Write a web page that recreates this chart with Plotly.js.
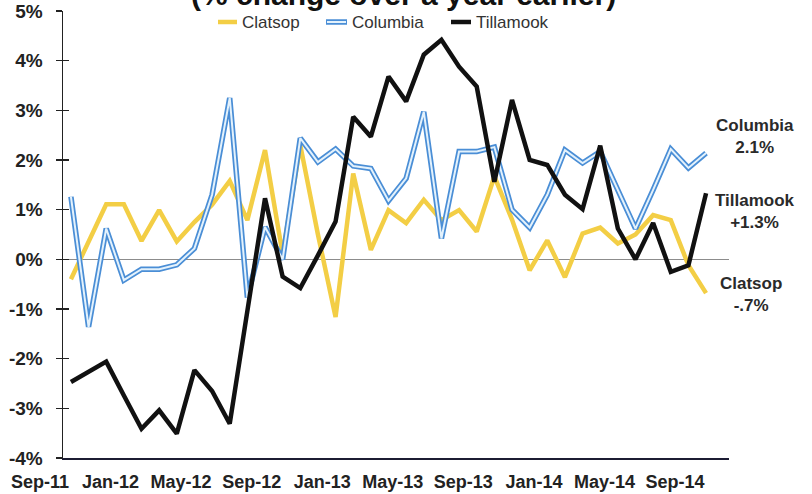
<!DOCTYPE html>
<html>
<head>
<meta charset="utf-8">
<script src="https://cdn.plot.ly/plotly-3.0.1.min.js"></script>
<style>html,body{margin:0;padding:0;background:#fff;}#chart{width:812px;height:494px;}</style>
</head>
<body>
<div id="chart"></div>
<script>
// ---- data ----
const months = ['Sep-11','Oct-11','Nov-11','Dec-11','Jan-12','Feb-12','Mar-12','Apr-12','May-12','Jun-12','Jul-12','Aug-12',
  'Sep-12','Oct-12','Nov-12','Dec-12','Jan-13','Feb-13','Mar-13','Apr-13','May-13','Jun-13','Jul-13','Aug-13',
  'Sep-13','Oct-13','Nov-13','Dec-13','Jan-14','Feb-14','Mar-14','Apr-14','May-14','Jun-14','Jul-14','Aug-14','Sep-14'];
const xTickLabels = ['Sep-11','Jan-12','May-12','Sep-12','Jan-13','May-13','Sep-13','Jan-14','May-14','Sep-14'];
const yTickValues = [-4,-3,-2,-1,0,1,2,3,4,5];
const yTickLabels = ['-4%','-3%','-2%','-1%','0%','1%','2%','3%','4%','5%'];
const clatsop = [-0.40,0.35,1.11,1.11,0.37,0.99,0.36,0.75,1.10,1.58,0.79,2.20,0.10,2.30,0.50,-1.16,1.73,0.19,0.99,0.73,1.20,0.79,0.99,0.56,1.67,0.80,-0.22,0.38,-0.36,0.52,0.64,0.32,0.50,0.89,0.79,-0.12,-0.68];
const columbia = [1.26,-1.36,0.62,-0.42,-0.20,-0.20,-0.11,0.22,1.30,3.25,-0.77,0.65,0.00,2.44,1.96,2.22,1.88,1.83,1.18,1.63,2.97,0.42,2.17,2.17,2.26,1.00,0.64,1.30,2.20,1.94,2.17,1.40,0.62,1.40,2.22,1.84,2.14];
const tillamook = [-2.47,-2.27,-2.06,-2.74,-3.41,-3.04,-3.51,-2.23,-2.65,-3.31,-1.05,1.23,-0.35,-0.58,0.08,0.76,2.87,2.47,3.68,3.18,4.12,4.42,3.88,3.48,1.56,3.21,2.00,1.90,1.30,1.01,2.29,0.62,0.00,0.73,-0.25,-0.12,1.33];
const seriesNames = ['Clatsop','Columbia','Tillamook'];
const endLabels = ['Columbia<br>2.1%','Tillamook<br>+1.3%','Clatsop<br>-.7%'];
const titleText = '(% change over a year earlier)';

// ---- geometry helpers ----
const W = 812, H = 494, M = {l:63, r:83, t:11, b:36};
const pw = W - M.l - M.r, ph = H - M.t - M.b;
const px = p => (p - M.l) / pw;
const py = p => (H - M.b - p) / ph;

const FONT = 'Liberation Sans, Arial, sans-serif';
const cYellow = '#F3CE45', cBlue = '#4A8ED6', cBlueIn = '#E4F2FC', cBlack = '#111111';

const traces = [
  {x: months, y: clatsop, type:'scatter', mode:'lines', name: seriesNames[0],
   line:{color:cYellow, width:4.5}, showlegend:false, hoverinfo:'skip'},
  {x: months, y: columbia, type:'scatter', mode:'lines', name: seriesNames[1],
   line:{color:cBlue, width:5.5}, showlegend:false, hoverinfo:'skip'},
  {x: months, y: columbia, type:'scatter', mode:'lines', name: seriesNames[1]+' inner',
   line:{color:cBlueIn, width:2}, showlegend:false, hoverinfo:'skip'},
  {x: months, y: tillamook, type:'scatter', mode:'lines', name: seriesNames[2],
   line:{color:cBlack, width:4.5}, showlegend:false, hoverinfo:'skip'},
  {x: [], y: [], yaxis:'y2', type:'scatter', mode:'lines', showlegend:false, hoverinfo:'skip'}
];

// custom legend
const legItems = [
  {name: seriesNames[0], x0:218, x1:237, tx:240, color:cYellow},
  {name: seriesNames[1], x0:326, x1:347, tx:350, color:cBlue, inner:cBlueIn},
  {name: seriesNames[2], x0:451, x1:471, tx:474, color:cBlack}
];
const legY = 22;
const shapes = [];
const annotations = [];
legItems.forEach(it => {
  shapes.push({type:'line', xref:'paper', yref:'paper', x0:px(it.x0), x1:px(it.x1), y0:py(legY), y1:py(legY),
    line:{color:it.color, width: it.inner ? 5.5 : 4.5}});
  if (it.inner) shapes.push({type:'line', xref:'paper', yref:'paper', x0:px(it.x0+1), x1:px(it.x1-1), y0:py(legY), y1:py(legY),
    line:{color:it.inner, width:2}});
  annotations.push({xref:'paper', yref:'paper', x:px(it.tx), y:py(legY), xanchor:'left', yanchor:'middle',
    text: it.name, showarrow:false, font:{family:FONT, size:17, color:'#333'}});
});

// title (cut off at top of picture)
annotations.push({xref:'paper', yref:'paper', x:px(404), y:py(-6), xanchor:'center', yanchor:'middle',
  text: titleText, showarrow:false, font:{family:FONT, size:30, color:'#111', weight:'bold'}});

// end labels
const endPos = [[755,136.5],[755,211.5],[751,294]];
endLabels.forEach((t,i) => {
  annotations.push({xref:'paper', yref:'paper', x:px(endPos[i][0]), y:py(endPos[i][1]), xanchor:'center', yanchor:'middle',
    text:t, showarrow:false, align:'center', font:{family:FONT, size:17, color:'#2a2a2a', weight:'bold'}});
});

const layout = {
  width: W, height: H,
  margin: M,
  paper_bgcolor:'#ffffff', plot_bgcolor:'#ffffff',
  showlegend:false,
  xaxis: {type:'category', range:[-0.45, 37.3], tickmode:'array', tickvals:xTickLabels, ticktext:xTickLabels,
    ticks:'', showline:true, linecolor:'#1c1c33', linewidth:2, showgrid:false, zeroline:false,
    tickfont:{family:FONT, size:18, color:'#222', weight:'bold'}, ticklabelshift:-31, ticklabelstandoff:6},
  yaxis: {range:[-4,5], tickmode:'array', tickvals:yTickValues, ticktext:yTickLabels,
    ticks:'outside', ticklen:6, tickcolor:'#222', tickwidth:1.5, showline:true, linecolor:'#222', linewidth:1.5,
    showgrid:false, zeroline:true, zerolinecolor:'#8c8c8c', zerolinewidth:1.2,
    tickfont:{family:FONT, size:19, color:'#222', weight:'bold'}, ticklabelstandoff:9},
  yaxis2: {overlaying:'y', side:'left', range:[-4,5], tickmode:'array', tickvals:yTickValues,
    ticks:'inside', ticklen:6, tickcolor:'#222', tickwidth:1.5, showticklabels:false, showline:false,
    showgrid:false, zeroline:false},
  shapes: shapes,
  annotations: annotations
};

Plotly.newPlot('chart', traces, layout, {staticPlot:true, displayModeBar:false});
</script>
</body>
</html>
